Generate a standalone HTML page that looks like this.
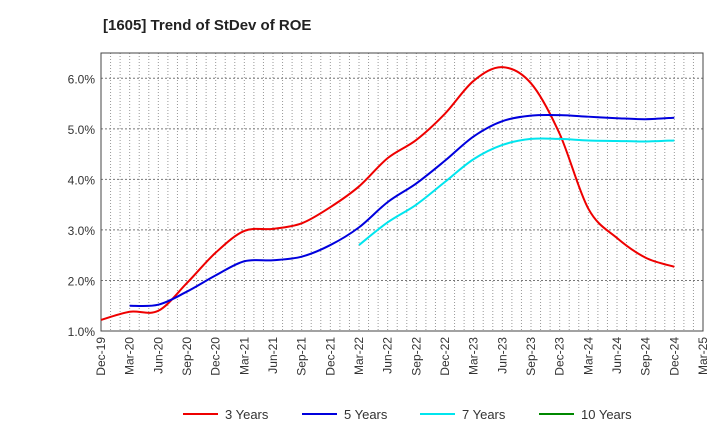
<!DOCTYPE html>
<html><head><meta charset="utf-8"><style>
body{margin:0;background:#fff;font-family:"Liberation Sans",Arial,sans-serif}
svg text{font-family:"Liberation Sans",Arial,sans-serif}
</style></head><body>
<svg id="c" width="720" height="440" viewBox="0 0 720 440">
<text x="103" y="30" font-size="15" font-weight="bold" fill="#222">[1605]  Trend of StDev of ROE</text>
<g id="grid"></g>
<g id="axes"></g>
<g id="series"></g>
<g id="legend"></g>
</svg>
<script>
const xLabels=["Dec-19","Mar-20","Jun-20","Sep-20","Dec-20","Mar-21","Jun-21","Sep-21","Dec-21","Mar-22","Jun-22","Sep-22","Dec-22","Mar-23","Jun-23","Sep-23","Dec-23","Mar-24","Jun-24","Sep-24","Dec-24","Mar-25"];
const yTicks=[1,2,3,4,5,6];
const s3=[1.22,1.38,1.40,1.95,2.55,2.98,3.02,3.13,3.45,3.86,4.42,4.78,5.3,5.95,6.22,5.9,4.9,3.42,2.84,2.45,2.27];
const s5=[null,1.5,1.52,1.78,2.1,2.38,2.4,2.47,2.7,3.05,3.55,3.92,4.37,4.85,5.15,5.26,5.27,5.24,5.21,5.19,5.22];
const s7=[null,null,null,null,null,null,null,null,null,2.7,3.15,3.5,3.95,4.4,4.68,4.8,4.8,4.77,4.76,4.75,4.77];
const s10=[];
const NS="http://www.w3.org/2000/svg";
const L=101,R=703,T=53,B=331,yMin=1,yMax=6.5;
const xs=i=>L+i*(R-L)/(xLabels.length-1);
const ys=v=>B-(v-yMin)/(yMax-yMin)*(B-T);
function mk(tag,attrs,parent){const e=document.createElementNS(NS,tag);for(const k in attrs)e.setAttribute(k,attrs[k]);parent.appendChild(e);return e;}
const grid=document.getElementById('grid'),axes=document.getElementById('axes'),ser=document.getElementById('series'),leg=document.getElementById('legend');
for(let m=1;m<(xLabels.length-1)*3;m++){const x=L+m*(R-L)/((xLabels.length-1)*3);
 const l=mk('line',{x1:x,x2:x,y1:T,y2:B,stroke:'#999','stroke-width':1,'stroke-dasharray':'1,2'},grid);
 }
yTicks.forEach(v=>{const y=ys(v);
 if(v>yMin){const l=mk('line',{x1:L,x2:R,y1:y,y2:y,stroke:'#777','stroke-width':1,'stroke-dasharray':'2,2'},grid);
 }
 const t=mk('text',{x:L-6,y:y+5,'text-anchor':'end','font-size':12,fill:'#333'},axes);t.textContent=v.toFixed(1)+'%';
 });
const fr=mk('rect',{x:L,y:T,width:R-L,height:B-T,fill:'none',stroke:'#444','stroke-width':1},axes);

xLabels.forEach((s,i)=>{const x=xs(i);const t=mk('text',{x:x+4,y:B+6,'text-anchor':'end','font-size':12,fill:'#333',transform:`rotate(-90 ${x+4} ${B+6})`},axes);t.textContent=s;
 });
function path(data,color,name){const p=[];data.forEach((v,i)=>{if(v!=null)p.push([xs(i),ys(v)]);});if(p.length<2)return;
 let d=`M${p[0][0]},${p[0][1]}`;for(let i=0;i<p.length-1;i++){const p0=p[i-1]||p[i],p1=p[i],p2=p[i+1],p3=p[i+2]||p2;
 d+=` C${p1[0]+(p2[0]-p0[0])/6},${p1[1]+(p2[1]-p0[1])/6} ${p2[0]-(p3[0]-p1[0])/6},${p2[1]-(p3[1]-p1[1])/6} ${p2[0]},${p2[1]}`;}
 const e=mk('path',{d:d,fill:'none',stroke:color,'stroke-width':2},ser);}
path(s3,'#ee0000','line-3-years');path(s5,'#0000dd','line-5-years');path(s7,'#00e5ee','line-7-years');path(s10,'#008800','line-10-years');
[["3 Years","#ee0000",183],["5 Years","#0000dd",302],["7 Years","#00e5ee",420],["10 Years","#008800",539]].forEach(([n,c,x])=>{
 const g=mk('g',{},leg);
 mk('line',{x1:x,x2:x+35,y1:414,y2:414,stroke:c,'stroke-width':2},g);
 const t=mk('text',{x:x+42,y:419,'font-size':13,fill:'#333'},g);t.textContent=n;});
</script>
</body></html>
